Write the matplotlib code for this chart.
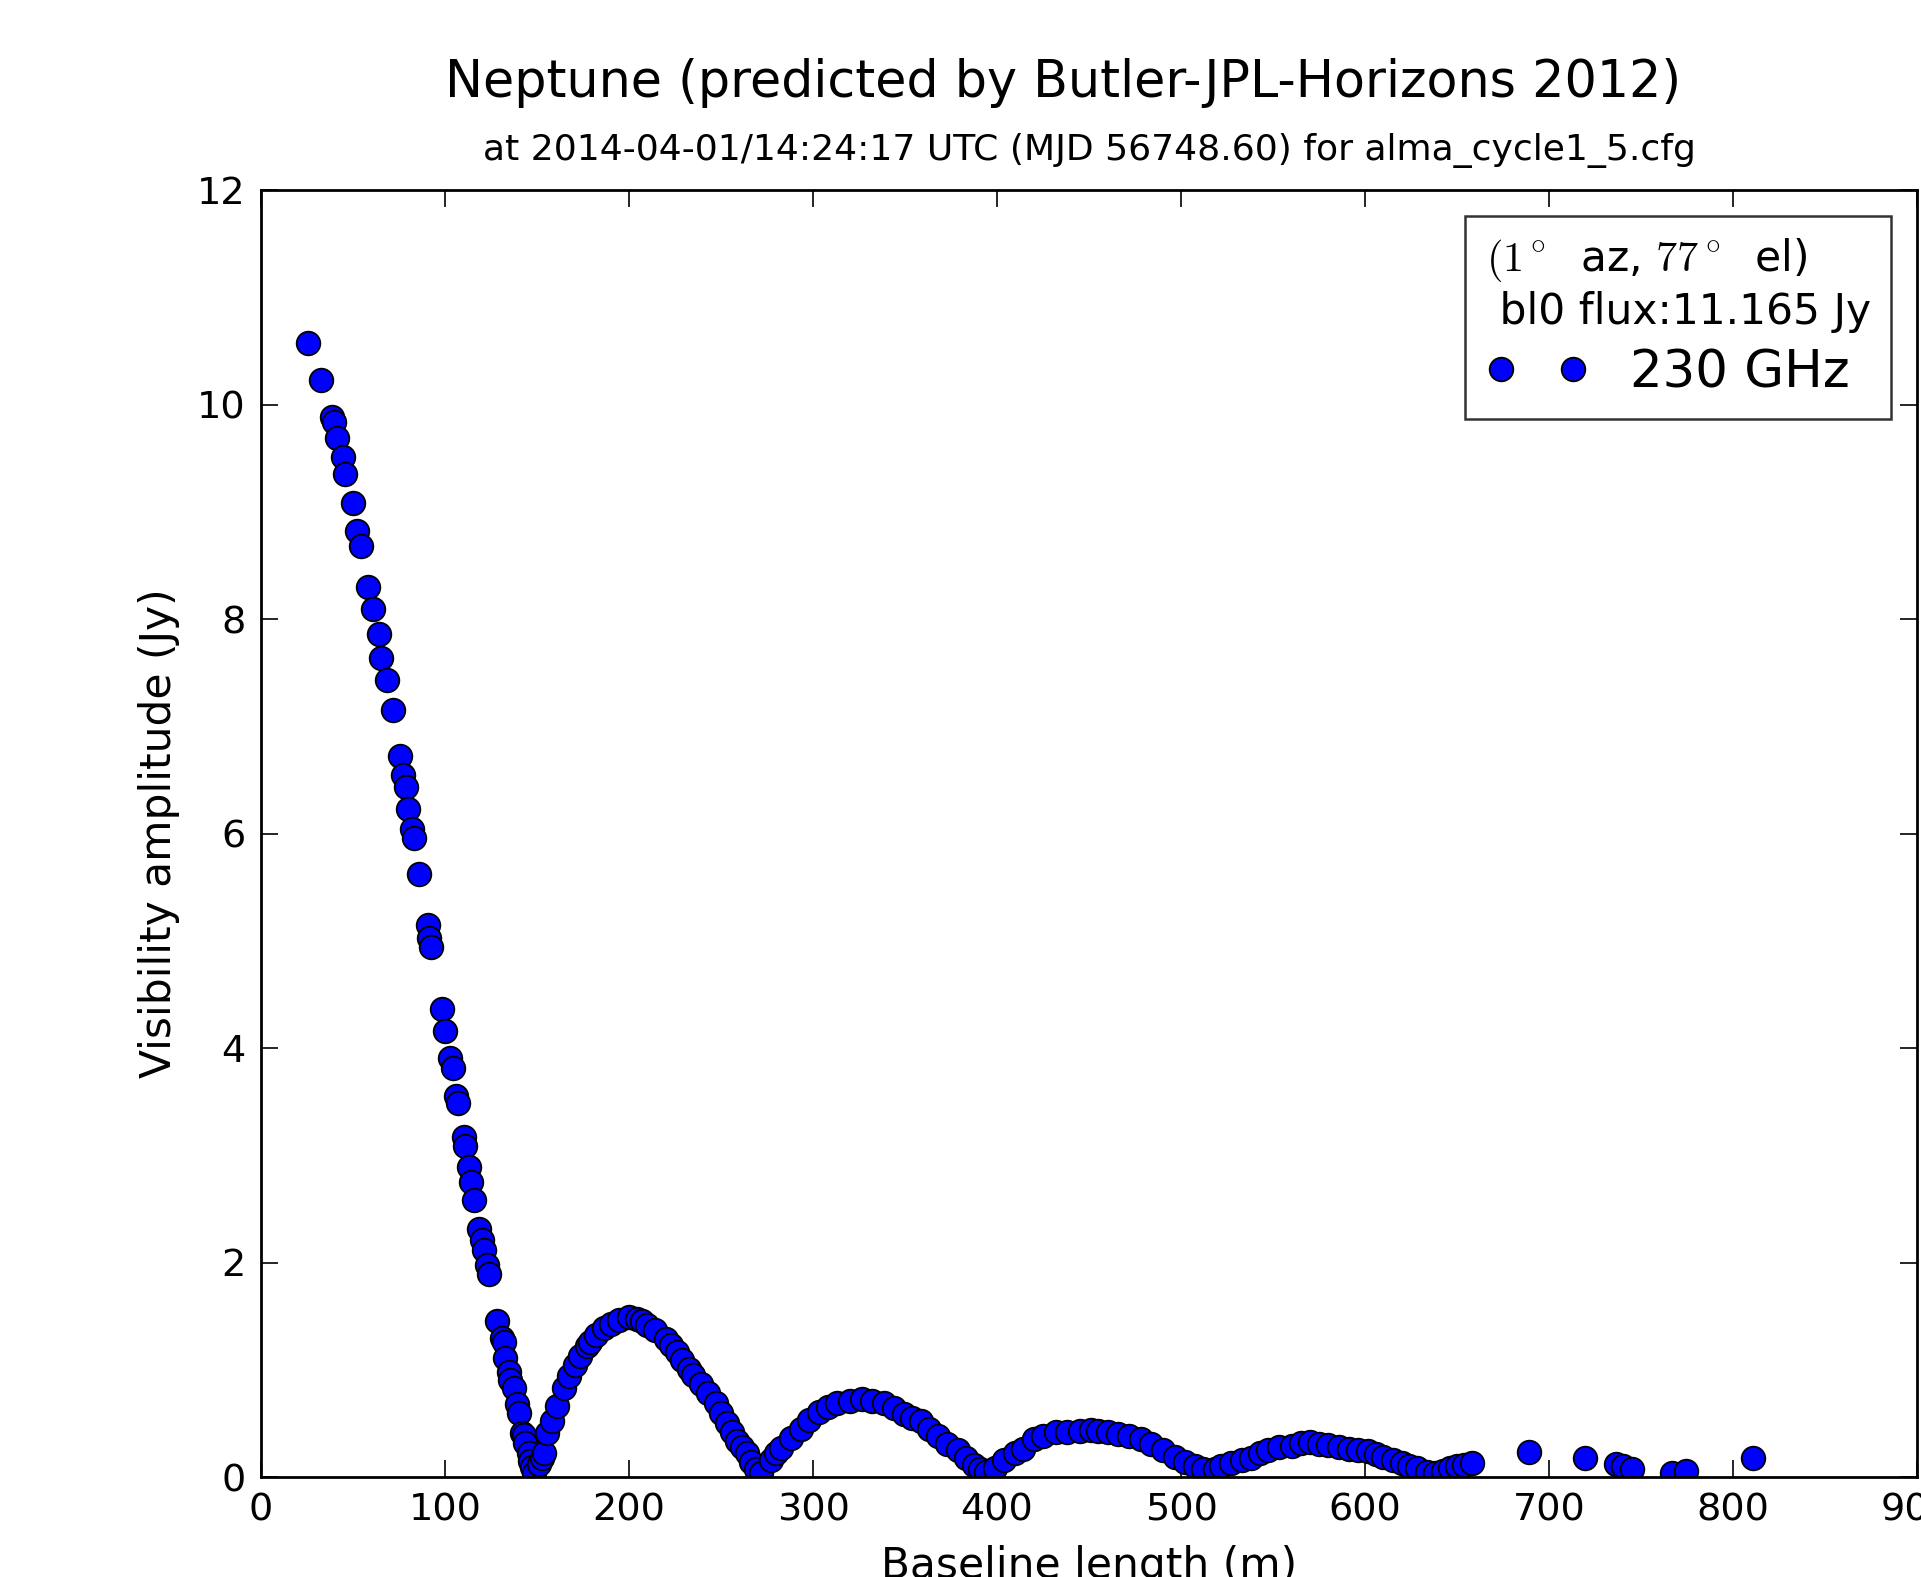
import matplotlib
matplotlib.use("Agg")
import matplotlib.pyplot as plt

# baseline length (m) and visibility amplitude (Jy)
baseline = [
    25.7, 32.5, 38.5, 39.5, 41.5, 44.3, 45.7, 49.9, 52.4, 54.2,
    58.4, 61.1, 64.2, 65.1, 68.4, 71.5, 75.6, 77.4, 78.7, 80.1,
    82.0, 82.9, 85.6, 90.5, 91.4, 92.3, 98.3, 99.8, 102.8, 104.1,
    106.1, 107.0, 110.1, 111.0, 112.8, 114.1, 115.5, 118.6, 120.0, 121.0,
    122.8, 123.7, 128.3, 130.9, 131.9, 132.8, 134.6, 135.5, 137.3, 139.0,
    140.0, 141.8, 142.8, 143.6, 145.4, 146.3, 147.3, 148.5, 150.9, 152.5,
    153.6, 155.5, 158.1, 160.9, 164.5, 167.2, 170.9, 173.6, 177.2, 179.0,
    182.0, 186.3, 190.0, 194.5, 199.9, 204.4, 207.0, 209.9, 214.0, 219.9,
    223.0, 226.2, 229.0, 232.5, 235.0, 238.9, 243.0, 247.1, 250.0, 253.4,
    256.0, 258.9, 261.5, 264.3, 266.5, 268.8, 272.0, 277.0, 280.0, 282.4,
    288.0, 293.3, 298.0, 303.3, 308.0, 313.3, 320.0, 326.9, 332.0, 338.7,
    344.0, 349.6, 354.0, 358.6, 363.0, 367.7, 373.0, 378.6, 383.0, 387.6,
    391.0, 394.0, 399.0, 404.0, 410.0, 414.0, 420.3, 425.0, 432.1, 438.0,
    445.0, 451.2, 455.0, 460.2, 466.0, 472.0, 478.0, 483.8, 490.0, 496.5,
    502.0, 507.4, 512.0, 518.3, 522.0, 527.3, 533.0, 538.1, 543.0, 547.3,
    553.0, 560.1, 565.0, 570.0, 575.0, 580.0, 586.0, 591.3, 596.0, 601.7,
    606.0, 609.9, 615.0, 619.9, 624.0, 628.0, 633.5, 638.0, 642.6, 646.0,
    649.8, 654.0, 658.0, 689.2, 719.3, 736.5, 740.0, 745.1, 766.6, 774.2,
    810.8,
]
amplitude = [
    10.57, 10.23, 9.88, 9.84, 9.69, 9.51, 9.35, 9.08, 8.82, 8.68,
    8.30, 8.09, 7.86, 7.64, 7.43, 7.15, 6.72, 6.55, 6.43, 6.23,
    6.04, 5.96, 5.62, 5.15, 5.03, 4.94, 4.36, 4.16, 3.91, 3.81,
    3.55, 3.49, 3.17, 3.09, 2.89, 2.75, 2.58, 2.31, 2.21, 2.12,
    1.98, 1.89, 1.45, 1.30, 1.26, 1.11, 0.98, 0.90, 0.83, 0.68,
    0.60, 0.41, 0.39, 0.32, 0.22, 0.15, 0.09, 0.04, 0.12, 0.18,
    0.22, 0.41, 0.52, 0.66, 0.83, 0.94, 1.04, 1.13, 1.22, 1.26,
    1.32, 1.39, 1.43, 1.46, 1.49, 1.47, 1.45, 1.42, 1.37, 1.29,
    1.23, 1.17, 1.09, 1.01, 0.95, 0.87, 0.78, 0.69, 0.60, 0.50,
    0.42, 0.34, 0.28, 0.22, 0.14, 0.07, 0.04, 0.16, 0.22, 0.27,
    0.36, 0.45, 0.53, 0.61, 0.65, 0.69, 0.71, 0.73, 0.71, 0.69,
    0.64, 0.59, 0.55, 0.52, 0.45, 0.38, 0.31, 0.25, 0.18, 0.11,
    0.07, 0.05, 0.08, 0.16, 0.22, 0.26, 0.35, 0.38, 0.42, 0.42,
    0.43, 0.44, 0.43, 0.42, 0.40, 0.38, 0.35, 0.31, 0.25, 0.19,
    0.14, 0.10, 0.07, 0.07, 0.10, 0.13, 0.16, 0.18, 0.22, 0.25,
    0.28, 0.29, 0.32, 0.33, 0.31, 0.30, 0.28, 0.26, 0.25, 0.24,
    0.21, 0.19, 0.16, 0.13, 0.10, 0.08, 0.05, 0.04, 0.06, 0.08,
    0.10, 0.11, 0.13, 0.23, 0.18, 0.12, 0.10, 0.07, 0.04, 0.06,
    0.18,
]
x_ticks = [0, 100, 200, 300, 400, 500, 600, 700, 800, 900]
y_ticks = [0, 2, 4, 6, 8, 10, 12]

plt.rcParams["mathtext.fontset"] = "cm"

fig = plt.figure(figsize=(19.21, 15.77), dpi=100)
ax = fig.add_axes([261 / 1921, 1 - 1477 / 1577, (1917 - 261) / 1921, (1477 - 190) / 1577])

ax.plot(baseline, amplitude, "o", color="blue", markeredgecolor="black",
        markeredgewidth=1.3, markersize=17, label="230 GHz")

ax.set_xlim(0, 900)
ax.set_ylim(0, 12)
ax.set_xticks(x_ticks)
ax.set_yticks(y_ticks)
ax.tick_params(direction="in", length=12, width=1.2, top=True, right=True,
               labelsize=27.5, pad=11)
for s in ax.spines.values():
    s.set_linewidth(2)

ax.set_xlabel("Baseline length (m)", fontsize=30.5, labelpad=12)
ax.set_ylabel("Visibility amplitude (Jy)", fontsize=30.5, labelpad=12)

fig.text(1063 / 1921, 1 - 83 / 1577, "Neptune (predicted by Butler-JPL-Horizons 2012)",
         ha="center", va="center", fontsize=36.5)
fig.text(1089 / 1921, 1 - 151 / 1577,
         "at 2014-04-01/14:24:17 UTC (MJD 56748.60) for alma_cycle1_5.cfg",
         ha="center", va="center", fontsize=26)

leg = ax.legend(loc="upper right", numpoints=2, fontsize=37,
                title="$(1^\\circ$  az, $77^\\circ$  el)\n bl0 flux:11.165 Jy",
                title_fontsize=30.5, alignment="left", fancybox=False,
                borderaxespad=0.5, borderpad=0.4, handlelength=2.0,
                handletextpad=0.8, labelspacing=0.3)
leg.get_frame().set_edgecolor("black")
leg.get_frame().set_linewidth(1.8)

fig.savefig("out.png", dpi=100)
